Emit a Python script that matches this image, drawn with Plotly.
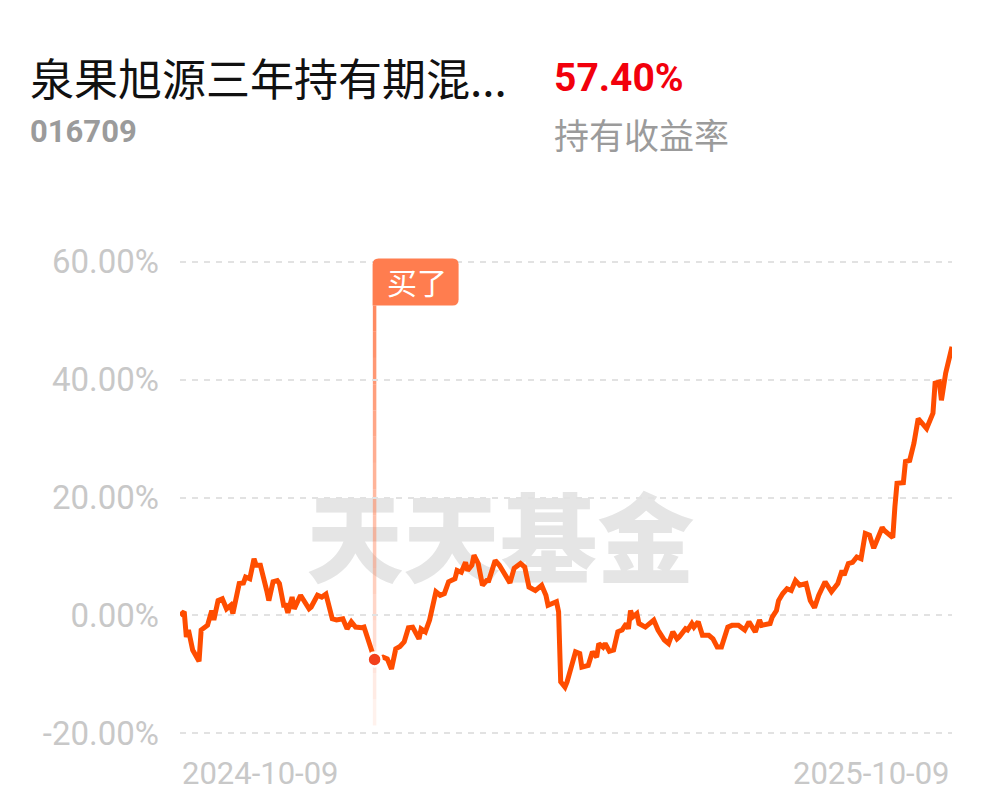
import pandas as pd
import plotly.graph_objects as go

# ---------------- data ----------------
start_date = "2024-10-09"
end_date = "2025-10-09"
day_offsets = [0, 2, 3, 4, 6, 9, 10, 13, 15, 16, 18, 20, 22, 24, 25, 28, 30, 31, 33, 35,
               36, 38, 41, 42, 44, 46, 47, 49, 50, 51, 53, 54, 57, 58, 61, 62, 65, 67, 69, 72,
               74, 77, 79, 81, 83, 86, 87, 92, 96, 98, 100, 102, 104, 106, 108, 110, 113, 114, 116, 118,
               121, 123, 125, 127, 130, 131, 133, 135, 136, 138, 139, 141, 143, 145, 146, 149, 151, 153, 156, 158,
               161, 163, 165, 168, 171, 173, 174, 178, 179, 180, 182, 183, 186, 187, 189, 190, 193, 195, 197, 198,
               200, 201, 203, 205, 207, 209, 211, 212, 213, 214, 216, 217, 220, 224, 226, 229, 231, 233, 235, 236,
               239, 240, 242, 243, 245, 247, 250, 252, 254, 256, 259, 261, 264, 265, 267, 269, 272, 274, 275, 279,
               280, 282, 283, 285, 287, 289, 291, 293, 296, 298, 300, 302, 305, 308, 310, 311, 313, 314, 316, 318,
               320, 322, 324, 326, 328, 332, 333, 337, 338, 339, 342, 343, 345, 347, 349, 353, 356, 357, 359, 360,
               362, 365]
returns_pct = [0.0, 0.6, -3.7, -2.5, -5.9, -7.8, -2.5, -1.7, 0.8, -0.8, 2.5, 2.8, 1.1, 1.7, 0.3, 5.4, 5.5, 6.5, 6.2, 9.6,
               8.5, 8.5, 4.2, 2.5, 5.7, 5.9, 5.4, 1.7, 1.7, 0.4, 3.1, 1.1, 3.4, 2.8, 1.1, 1.4, 3.4, 3.1, 3.6, -0.6,
               -0.8, -0.6, -2.3, -1.1, -2.0, -2.1, -2.0, -7.5, -7.1, -7.4, -9.1, -5.7, -5.3, -4.5, -2.1, -2.0, -4.0, -2.3, -2.8, -0.8,
               4.0, 3.4, 3.7, 5.7, 6.2, 7.6, 7.3, 9.0, 7.6, 8.5, 10.2, 8.8, 5.1, 5.9, 5.9, 9.3, 8.5, 7.3, 5.5, 8.0,
               8.8, 8.2, 4.8, 4.2, 5.1, 3.4, 1.7, 2.3, 0.6, -11.3, -12.2, -11.3, -7.6, -6.2, -6.5, -8.8, -8.5, -6.2, -7.1, -4.8,
               -5.4, -4.8, -6.1, -5.9, -2.8, -2.5, -1.4, -2.3, 0.8, -0.3, 0.3, -1.4, -2.0, -0.8, -2.5, -4.2, -4.8, -2.8, -4.0, -3.7,
               -2.3, -2.5, -1.4, -2.0, -1.1, -3.4, -3.4, -4.0, -5.4, -5.4, -2.0, -1.7, -1.7, -2.0, -2.5, -1.1, -2.8, -0.8, -1.7, -1.4,
               -0.3, 0.8, 2.5, 3.7, 4.5, 4.2, 5.9, 5.1, 5.4, 2.5, 1.3, 3.4, 5.7, 4.0, 5.1, 5.4, 7.6, 6.8, 8.8, 9.0,
               9.9, 9.6, 13.9, 13.6, 11.4, 14.9, 14.4, 13.2, 18.4, 22.4, 22.5, 26.1, 26.3, 29.2, 33.4, 31.7, 34.3, 39.4, 39.6, 36.5,
               41.1, 45.6]
buy_offset = 92
buy_label = "买了"
y_tick_values = [-20, 0, 20, 40, 60]
y_tick_labels = ["-20.00%", "0.00%", "20.00%", "40.00%", "60.00%"]
x_tick_labels = ["2024-10-09", "2025-10-09"]
fund_name = "泉果旭源三年持有期混..."
fund_code = "016709"
holding_return = "57.40%"
holding_return_label = "持有收益率"
watermark = "天天基金"

# ---------------- build ----------------
base = pd.Timestamp(start_date)
dates = [base + pd.Timedelta(days=d) for d in day_offsets]
buy_idx = day_offsets.index(buy_offset)
buy_date = dates[buy_idx]
buy_value = returns_pct[buy_idx]

LINE = "#ff4d00"
CORAL = "#ff7d4f"
GREY = "#c8c8c8"
CJK = "Noto Sans CJK SC, Noto Sans, sans-serif"
LATIN = "Roboto, sans-serif"

fig = go.Figure()

fig.add_trace(go.Scatter(
    x=dates, y=returns_pct, mode="lines",
    line=dict(color=LINE, width=5, shape="linear"),
    hoverinfo="skip", showlegend=False,
))
fig.add_trace(go.Scatter(
    x=[buy_date], y=[buy_value], mode="markers",
    marker=dict(color="#f2401c", size=14, line=dict(color="white", width=2.5)),
    hoverinfo="skip", showlegend=False,
))

shapes = []
# watermark behind data
shapes.append(dict(
    type="rect", xref="paper", yref="paper", x0=0.05, x1=0.78, y0=0.285, y1=0.505,
    line=dict(width=0), fillcolor="rgba(0,0,0,0)", layer="below",
    label=dict(text=watermark, textposition="middle center",
               font=dict(family=CJK, size=97, color="#e5e5e5", weight=900)),
))
# gradient vertical buy line
top_v, bot_v = 52.6, -18.7
n_seg = 16
for i in range(n_seg):
    y0 = top_v - (top_v - bot_v) * i / n_seg
    y1 = top_v - (top_v - bot_v) * (i + 1) / n_seg
    alpha = 0.9 - 0.8 * i / (n_seg - 1)
    shapes.append(dict(
        type="line", xref="x", yref="y", x0=buy_date, x1=buy_date, y0=y0, y1=y1,
        line=dict(color=f"rgba(255,125,80,{alpha:.3f})", width=3.5), layer="below",
    ))
# rounded label box for the buy flag
BW, BH, R = 86, 47, 6
shapes.append(dict(
    type="path", xref="x", yref="y",
    xsizemode="pixel", ysizemode="pixel", xanchor=buy_date, yanchor=top_v,
    path=(f"M -2,0 L {BW-2-R},0 Q {BW-2},0 {BW-2},{R} L {BW-2},{BH-R} "
          f"Q {BW-2},{BH} {BW-2-R},{BH} L {R-2},{BH} Q -2,{BH} -2,{BH-R} Z"),
    fillcolor=CORAL, line=dict(width=0), layer="above",
))

annotations = []
annotations.append(dict(
    x=buy_date, y=top_v, xref="x", yref="y", xanchor="left", yanchor="bottom",
    text=buy_label, showarrow=False, xshift=-2,
    borderpad=0, width=86, height=47, align="center", valign="middle",
    font=dict(family=CJK, size=30, color="white"),
))
annotations.append(dict(
    x=0, y=0, xref="paper", yref="paper", xanchor="left", yanchor="top", yshift=-14,
    text=x_tick_labels[0], showarrow=False,
    font=dict(family=LATIN, size=31, color=GREY),
))
annotations.append(dict(
    x=1, y=0, xref="paper", yref="paper", xanchor="right", yanchor="top", yshift=-14,
    text=x_tick_labels[1], showarrow=False,
    font=dict(family=LATIN, size=31, color=GREY),
))
# header (pixel positions in the final picture)
annotations.append(dict(
    x=28, y=77, xref="paper", yref="paper", text=fund_name, showarrow=False,
    xanchor="left", yanchor="middle", font=dict(family=CJK, size=44, color="#111111"),
))
annotations.append(dict(
    x=28, y=131, xref="paper", yref="paper", text=f"<b>{fund_code}</b>", showarrow=False,
    xanchor="left", yanchor="middle", font=dict(family=LATIN, size=31, color="#9b9b9b"),
))
annotations.append(dict(
    x=552, y=78, xref="paper", yref="paper", text=f"<b>{holding_return}</b>", showarrow=False,
    xanchor="left", yanchor="middle", font=dict(family=LATIN, size=39, color="#f2000c"),
))
annotations.append(dict(
    x=552, y=133, xref="paper", yref="paper", text=holding_return_label, showarrow=False,
    xanchor="left", yanchor="middle", font=dict(family=CJK, size=35, color="#9b9b9b"),
))

OFF = 8  # page body offset
W, H = 997, 802
ML, MT = 180 - OFF, 256 - OFF
pw, ph = 772, 483
MR, MB = W - ML - pw, H - MT - ph
for a in annotations[3:]:
    a["x"] = (a["x"] - OFF - ML) / pw
    a["y"] = (H - MB - (a["y"] - OFF)) / ph

fig.update_layout(
    width=W, height=H,
    margin=dict(l=ML, r=MR, t=MT, b=MB, pad=0),
    paper_bgcolor="white", plot_bgcolor="white",
    shapes=shapes, annotations=annotations,
    showlegend=False,
    xaxis=dict(range=[base, pd.Timestamp(end_date)], showgrid=False, zeroline=False,
               showticklabels=False, showline=False, ticks=""),
    yaxis=dict(range=[-21, 61], tickvals=y_tick_values, ticktext=y_tick_labels,
               showgrid=True, gridcolor="#e2e2e2", gridwidth=1.5, griddash="6px,6px",
               zeroline=False, showline=False, ticks="", ticklabelstandoff=20,
               tickfont=dict(family=LATIN, size=33, color=GREY)),
)

fig.write_html("out.html")
